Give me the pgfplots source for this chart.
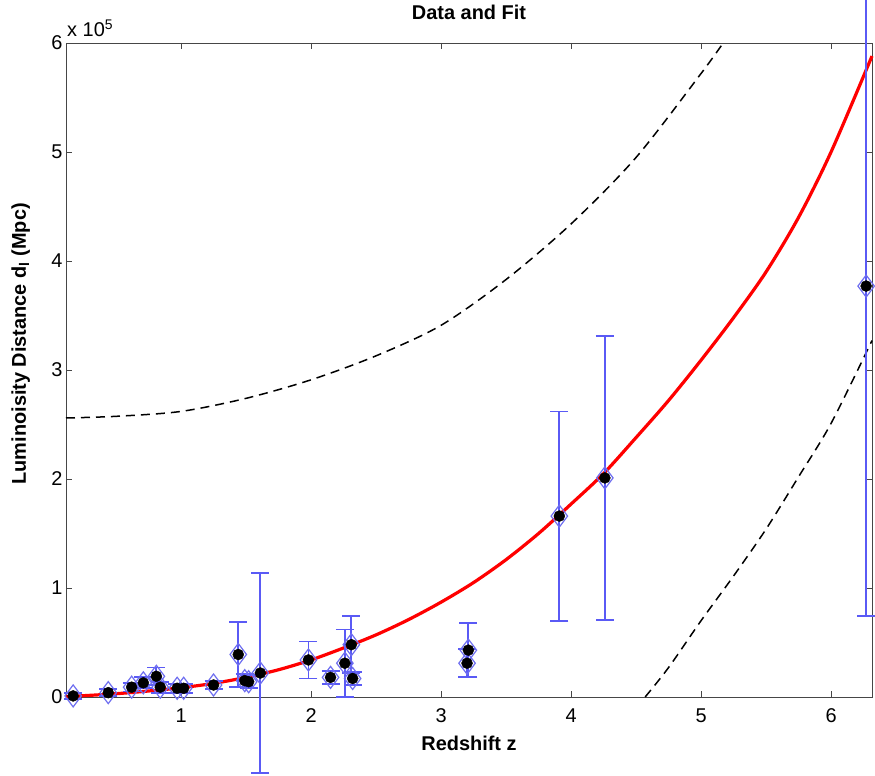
\documentclass[border=0pt]{standalone}
\usepackage{pgfplots}
\pgfplotsset{compat=1.18}
\usepackage{fontspec}
\setmainfont{Liberation Sans}
\definecolor{eb}{RGB}{90,90,245}
\definecolor{dm}{RGB}{110,110,240}
\definecolor{axgray}{RGB}{70,70,70}

\pgfplotstableread{
z     d      ep     em
0.17  1000   3000   3000
0.44  4000   3000   3000
0.62  9000   4000   4000
0.71  13000  5000   5000
0.81  19000  8000   8000
0.84  9000   5000   5000
0.97  8000   4000   4000
1.02  8000   4000   4000
1.25  11000  4000   4000
1.44  39000  30000  30000
1.49  15000  6000   6000
1.52  14000  6000   6000
1.61  22000  92000  92000
1.98  34000  17000  17000
2.15  18000  6000   6000
2.26  31000  31000  31000
2.31  48000  26000  26000
2.32  17000  6000   6000
3.20  31000  13000  13000
3.21  43000  25000  25000
3.91  166000 96000  96000
4.26  201000 130000 130000
6.27  377000 303000 303000
}\datatable

\pgfplotstableread{
z      d
0.115  500
0.25   1200
0.5    3000
0.75   5500
1.0    8500
1.25   12500
1.5    18000
1.75   25000
2.0    34000
2.25   45000
2.5    57000
2.75   71000
3.0    87000
3.25   105000
3.5    126000
3.75   150000
4.0    177000
4.25   205000
4.5    238000
4.75   272000
5.0    309000
5.25   348000
5.5    390000
5.75   440000
6.0    500000
6.315  588000
}\fittable

\pgfplotstableread{
z      d
0.115  256000
0.5    257500
1.0    262000
1.5    274000
2.0    291000
2.5    313000
3.0    341000
3.5    383000
4.0    434000
4.5    495000
5.0    572000
5.17   600000
}\uppertable

\pgfplotstableread{
z      d
4.57   0
4.75   27000
5.0    70000
5.25   111000
5.5    154000
5.75   202000
6.0    251000
6.315  327000
}\lowertable

\begin{document}
\begin{tikzpicture}
\begin{axis}[
  width=806bp, height=654bp, scale only axis,
  xmin=0.115, xmax=6.315, ymin=0, ymax=600000,
  xtick={1,2,3,4,5,6},
  ytick={0,100000,200000,300000,400000,500000,600000},
  scaled y ticks=base 10:-5,
  ytick scale label code/.code={x 10\textsuperscript{5}},
  every y tick scale label/.style={at={(rel axis cs:0,1)}, anchor=south west, inner sep=0pt, yshift=6bp, xshift=1bp, font=\fontsize{20}{24}\selectfont},
  tick align=inside,
  major tick length=6bp,
  axis line style={axgray, line width=0.9bp},
  tick style={axgray, line width=0.9bp},
  ticklabel style={font=\fontsize{20}{24}\selectfont},
  xticklabel style={yshift=-8bp},
  /pgf/number format/assume math mode=true,
  title={Data and Fit},
  title style={font=\fontsize{20}{24}\selectfont\bfseries, at={(rel axis cs:0.5,1)}, anchor=base, yshift=18bp},
  xlabel={Redshift z},
  xlabel style={font=\fontsize{20}{24}\selectfont\bfseries, at={(rel axis cs:0.5,0)}, anchor=base, yshift=-53bp},
  ylabel={Luminoisity Distance d\textsubscript{l} (Mpc)},
  ylabel style={font=\fontsize{20}{24}\selectfont\bfseries, at={(rel axis cs:0,0.54)}, anchor=base, yshift=40bp},
  clip=false,
]
\addplot[red, line width=3.2bp, smooth] table[x=z, y=d] {\fittable};
\addplot[black, line width=1.5bp, dash pattern=on 9bp off 6bp, smooth] table[x=z, y=d] {\uppertable};
\addplot[black, line width=1.5bp, dash pattern=on 9bp off 6bp, smooth] table[x=z, y=d] {\lowertable};
\addplot[only marks, mark=diamond, mark size=11bp, mark options={draw=dm, fill=none, line width=1.2bp},
  error bars/.cd, y dir=both, y explicit,
  error bar style={eb, line width=1.8bp},
  error mark options={eb, line width=1.8bp, mark size=9bp, rotate=90}]
  table[x=z, y=d, y error plus=ep, y error minus=em] {\datatable};
\addplot[only marks, mark=*, mark size=5.5bp, black] table[x=z, y=d] {\datatable};
\coordinate (ll) at (rel axis cs:0,0);
\coordinate (ur) at (rel axis cs:1,1);
\end{axis}
\pgfresetboundingbox
\useasboundingbox ([xshift=-66bp, yshift=-79bp]ll) rectangle ([xshift=3bp, yshift=43bp]ur);
\end{tikzpicture}
\end{document}
